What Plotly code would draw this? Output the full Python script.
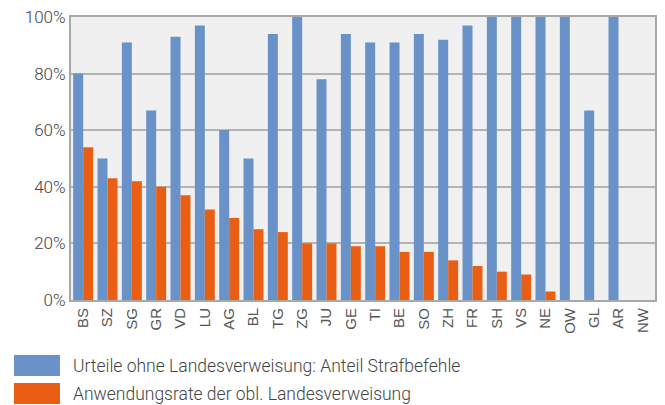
import plotly.graph_objects as go

cantons = ["BS","SZ","SG","GR","VD","LU","AG","BL","TG","ZG","JU","GE","TI","BE","SO","ZH","FR","SH","VS","NE","OW","GL","AR","NW"]
strafbefehle = [80,50,91,67,93,97,60,50,94,100,78,94,91,91,94,92,97,100,100,100,100,67,100,None]
anwendungsrate = [54,43,42,40,37,32,29,25,24,20,20,19,19,17,17,14,12,10,9,3,None,None,None,None]
yticks = [0,20,40,60,80,100]
ytick_labels = [f"{v}%" for v in yticks]
legend_labels = ["Urteile ohne Landesverweisung: Anteil Strafbefehle",
                 "Anwendungsrate der obl. Landesverweisung"]
colors = ["#6892c8", "#e95e12"]

fig = go.Figure()
fig.add_trace(go.Bar(x=cantons, y=strafbefehle, name=legend_labels[0], marker_color=colors[0], marker_line_width=0))
fig.add_trace(go.Bar(x=cantons, y=anwendungsrate, name=legend_labels[1], marker_color=colors[1], marker_line_width=0))

fig.update_layout(
    width=665, height=405,
    margin=dict(l=71, r=10, t=17, b=105, autoexpand=False),
    barmode="group", bargap=0.18, bargroupgap=0,
    plot_bgcolor="#eff0ef", paper_bgcolor="white",
    showlegend=False,
    font=dict(family="Roboto", color="#444444", size=15),
)
fig.update_yaxes(range=[0,100], tickvals=yticks, ticktext=ytick_labels,
                 showgrid=True, gridcolor="#b4b4b4", gridwidth=1.5,
                 showline=True, linecolor="#a8a8a8", linewidth=2, mirror=True,
                 ticks="", zeroline=False, automargin=False,
                 tickfont=dict(size=17, color="#444444", family="Roboto", weight=300))
fig.update_xaxes(showline=True, linecolor="#a8a8a8", linewidth=2, mirror=True,
                 tickangle=-90, ticks="", automargin=False,
                 tickfont=dict(size=15, color="#555555", family="Liberation Sans"))

# legend: swatches + labels
for i, (lab, col) in enumerate(zip(legend_labels, colors)):
    y0 = 355 + i * 28
    fig.add_shape(type="rect", xref="paper", yref="paper",
                  x0=(14-71)/584, x1=(60-71)/584,
                  y0=(300 - (y0 + 21)) / 283, y1=(300 - y0) / 283,
                  fillcolor=col, line_width=0)
    fig.add_annotation(text=lab, xref="paper", yref="paper",
                       x=(71-71)/584, y=(300 - (y0 + 10.5)) / 283,
                       xanchor="left", yanchor="middle", showarrow=False,
                       font=dict(size=17.5, color="#444444", family="Roboto", weight=300))

fig.write_html("out.html", config={"displayModeBar": False},
               post_script="document.body.style.margin='0';document.body.style.overflow='hidden';")
